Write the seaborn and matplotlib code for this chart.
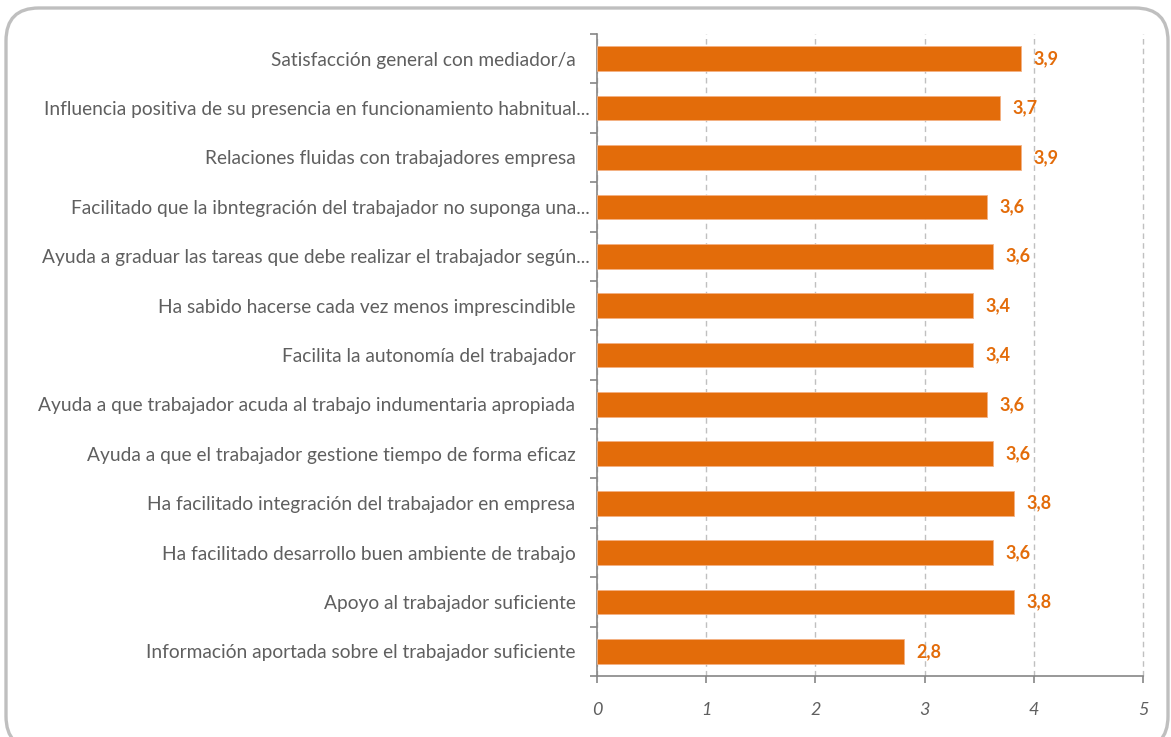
import matplotlib
matplotlib.use("Agg")
import matplotlib.pyplot as plt
import seaborn as sns
import pandas as pd
from matplotlib.patches import FancyBboxPatch
from matplotlib.ticker import FixedLocator

NB = "\u00a0\u00a0\u00a0"
categories = [
    "Satisfacción general con mediador/a" + NB,
    "Influencia positiva de su presencia en funcionamiento habnitual...",
    "Relaciones fluidas con trabajadores empresa" + NB,
    "Facilitado que la ibntegración del trabajador no suponga una...",
    "Ayuda a graduar las tareas que debe realizar el trabajador según...",
    "Ha sabido hacerse cada vez menos imprescindible" + NB,
    "Facilita la autonomía del trabajador" + NB,
    "Ayuda a que trabajador acuda al trabajo indumentaria apropiada" + NB,
    "Ayuda a que el trabajador gestione tiempo de forma eficaz" + NB,
    "Ha facilitado integración del trabajador en empresa" + NB,
    "Ha facilitado desarrollo buen ambiente de trabajo" + NB,
    "Apoyo al trabajador suficiente" + NB,
    "Información aportada sobre el trabajador suficiente" + NB,
]
values = [3.88, 3.69, 3.88, 3.57, 3.63, 3.44, 3.44, 3.57, 3.63, 3.82, 3.63, 3.82, 2.81]
value_labels = ["3,9", "3,7", "3,9", "3,6", "3,6", "3,4", "3,4", "3,6", "3,6", "3,8", "3,6", "3,8", "2,8"]
x_ticks = [0, 1, 2, 3, 4, 5]

ORANGE = "#E36C0A"
GRAY_TXT = "#5F5F5F"
AXIS = "#868686"

sns.set_theme(style="white")
plt.rcParams["font.family"] = ["Lato", "DejaVu Sans"]

df = pd.DataFrame({"cat": categories, "val": values})

fig = plt.figure(figsize=(11.71, 7.37), dpi=100)
ax = fig.add_axes([597 / 1171, 1 - 676 / 737, (1143 - 597) / 1171, (676 - 34) / 737])

# rounded border (bottom runs past the image edge)
border = FancyBboxPatch((6 / 1171, -12 / 737), (1168 - 6) / 1171, (729 + 12) / 737,
                        boxstyle="round,pad=0,rounding_size=0.028",
                        transform=fig.transFigure, facecolor="white",
                        edgecolor="#BFBFBF", linewidth=2.4, zorder=-10,
                        mutation_aspect=1171 / 737)
fig.patches.append(border)
fig.patch.set_facecolor("white")
ax.set_facecolor("none")

sns.barplot(data=df, x="val", y="cat", orient="h", color=ORANGE, width=0.5,
            saturation=1, ax=ax, zorder=3, edgecolor="#F4B183", linewidth=0.6)

ax.bar_label(ax.containers[0], labels=value_labels, padding=9, color=ORANGE,
             fontsize=13, fontweight="bold")

ax.set_xlim(0, 5)
ax.set_ylim(len(categories) - 0.5, -0.5)
ax.set_xticks(x_ticks)
ax.set_xticklabels([str(t) for t in x_ticks], fontstyle="italic", color=GRAY_TXT, fontsize=13)
ax.xaxis.grid(True, linestyle=(0, (4, 3)), color="#C0C0C0", linewidth=1.0, zorder=0)
for gl in ax.get_xgridlines():
    gl.set_clip_on(False)
ax.yaxis.grid(False)
ax.set_xlabel("")
ax.set_ylabel("")

for s in ["top", "right"]:
    ax.spines[s].set_visible(False)
for s in ["left", "bottom"]:
    ax.spines[s].set_color(AXIS)
    ax.spines[s].set_linewidth(1.2)

ax.tick_params(axis="y", which="major", length=0, pad=5, labelsize=13.8, labelcolor=GRAY_TXT)
ax.yaxis.set_minor_locator(FixedLocator([i - 0.5 for i in range(len(categories) + 1)]))
ax.tick_params(axis="y", which="minor", left=True, length=5, width=1.2, color=AXIS)
ax.tick_params(axis="x", which="major", bottom=True, length=5, width=1.2, color=AXIS, pad=14)

fig.savefig("out.png", dpi=100, facecolor="white")
